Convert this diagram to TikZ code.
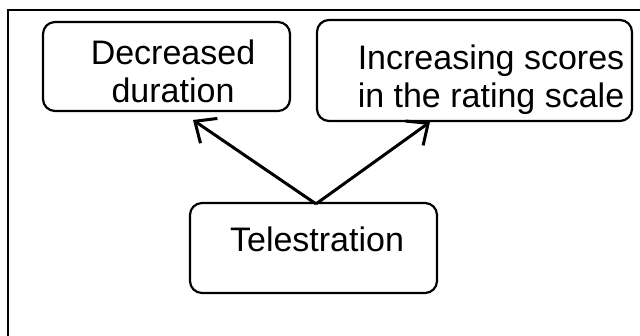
\documentclass[tikz,border=0pt]{standalone}
\usepackage{fontspec}
\setmainfont{Liberation Sans}
\usetikzlibrary{arrows.meta}

\begin{document}
\begin{tikzpicture}[
    x=1pt, y=-1pt,
    box/.style={rectangle, draw=black, line width=2.2pt, rounded corners=12pt, inner sep=0pt},
    txt/.style={inner sep=0pt, anchor=north, align=center, font=\fontsize{34}{38}\selectfont},
    arrow/.style={-{Straight Barb[length=17pt, width=30pt]}, line width=3pt}
]
    \useasboundingbox (0,0) rectangle (640,336);
    % frame, only top and left edges show
    \draw[line width=2.4pt] (8,336) -- (8,10) -- (640,10);

    \node[box, minimum width=247pt, minimum height=89pt] (dur) at (166.5,66.5) {};
    \node[box, minimum width=315pt, minimum height=101pt] (scores) at (474.5,70.5) {};
    \node[box, minimum width=247pt, minimum height=90pt] (tele) at (313.5,248) {};

    \node[txt] (durtext) at (173,40) {Decreased\\duration};
    \node[txt] (scorestext) at (491,45) {Increasing scores\\in the rating scale};
    \node[txt] (teletext) at (317,227) {Telestration};

    \coordinate (durtip) at (193,120);
    \coordinate (scorestip) at (430,122);

    \draw[arrow] ([xshift=2.5pt, yshift=-2pt]tele.north) -- (durtip);
    \draw[arrow] ([xshift=2.5pt, yshift=-2pt]tele.north) -- (scorestip);
\end{tikzpicture}
\end{document}
